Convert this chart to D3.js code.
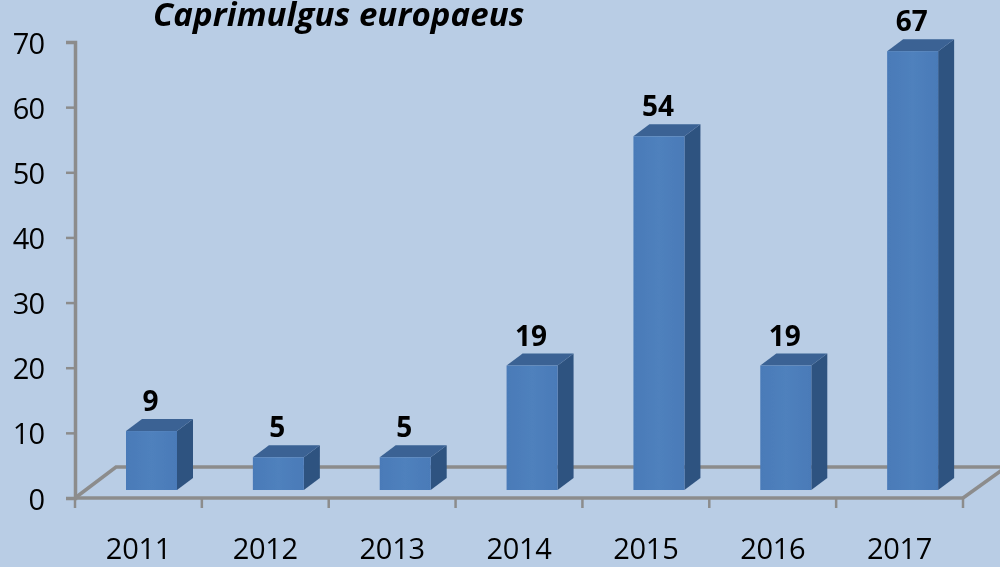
<!DOCTYPE html>
<html><head><meta charset="utf-8">
<script src="https://cdn.jsdelivr.net/npm/d3@7"></script>
<style>html,body{margin:0;padding:0;background:#b9cde5}svg{display:block}text{font-family:"Open Sans",sans-serif}</style>
</head><body><svg id="c" width="1000" height="567"></svg>
<script>
const years=["2011","2012","2013","2014","2015","2016","2017"];
const counts=[9,5,5,19,54,19,67];
const yTicks=[0,10,20,30,40,50,60,70];
const titleText="Caprimulgus europaeus";

const W=1000,H=567,axisGrey="#8c8c8c";
const svg=d3.select("#c");
svg.append("rect").attr("width",W).attr("height",H).attr("fill","#b9cde5");
const defs=svg.append("defs");
const grad=defs.append("linearGradient").attr("id","front").attr("x1",0).attr("x2",1).attr("y1",0).attr("y2",0);
grad.append("stop").attr("offset","0%").attr("stop-color","#4a7ab8");
grad.append("stop").attr("offset","50%").attr("stop-color","#4f81bd");
grad.append("stop").attr("offset","100%").attr("stop-color","#4a7ab8");
defs.append("filter").attr("id","soft").append("feGaussianBlur").attr("stdDeviation",0.4);

const x=d3.scaleBand().domain(years).range([75,963]);
const y=d3.scaleLinear().domain([0,70]).range([498,42]);
const yFront=d3.scaleLinear().domain([0,70]).range([490,31.5]);
const dx=16,dy=-12,floorDx=41,floorDy=-31;

const g=svg.append("g").attr("filter","url(#soft)");
// floor
g.append("path").attr("fill","none").attr("stroke",axisGrey).attr("stroke-width",3.5)
 .attr("d",`M75,498L${75+floorDx},${498+floorDy}L${W+2},${498+floorDy}`);
g.append("path").attr("fill","none").attr("stroke",axisGrey).attr("stroke-width",3.5)
 .attr("d",`M963,498L${W+2},470`);
// axes
const ya=d3.axisLeft(y).tickValues(yTicks).tickSize(9).tickPadding(22).tickFormat(d3.format("d"));
const yg=g.append("g").attr("transform","translate(75,0)").call(ya);
const xTicks=d3.range(years.length+1).map(i=>75+i*x.step());
g.selectAll("line.xt").data(xTicks).join("line").attr("class","xt")
 .attr("x1",d=>d).attr("x2",d=>d).attr("y1",498).attr("y2",508).attr("stroke",axisGrey).attr("stroke-width",2.5);
g.append("line").attr("x1",75).attr("x2",963).attr("y1",498).attr("y2",498).attr("stroke",axisGrey).attr("stroke-width",3.5);
yg.selectAll("path.domain").attr("stroke",axisGrey).attr("stroke-width",3.5);
yg.selectAll(".tick line").attr("stroke",axisGrey).attr("stroke-width",2.5);
yg.selectAll(".tick text").attr("fill","#000").attr("font-size",29).attr("dy",11).attr("letter-spacing",-1);
// x labels
g.selectAll("text.xl").data(years).join("text").attr("class","xl")
 .attr("x",d=>x(d)+x.step()*0.5).attr("y",559).attr("text-anchor","middle")
 .attr("font-size",29).attr("letter-spacing",-0.3).attr("fill","#000").text(d=>d);
// bars
const bw=51,off=51;
const bars=g.selectAll("g.bar").data(years.map((k,i)=>({k,v:counts[i]}))).join("g").attr("class","bar");
bars.append("path").attr("fill","#2f5380").attr("d",d=>{const a=x(d.k)+off+bw,t=yFront(d.v),b=yFront(0);
 return `M${a},${t}L${a+dx},${t+dy}L${a+dx},${b+dy}L${a},${b}Z`;});
bars.append("path").attr("fill","#3b6294").attr("d",d=>{const a=x(d.k)+off,t=yFront(d.v);
 return `M${a},${t}L${a+dx},${t+dy}L${a+bw+dx},${t+dy}L${a+bw},${t}Z`;});
bars.append("rect").attr("fill","url(#front)").attr("x",d=>x(d.k)+off).attr("width",bw)
 .attr("y",d=>yFront(d.v)).attr("height",d=>yFront(0)-yFront(d.v));
bars.append("text").attr("x",d=>x(d.k)+off+bw/2-1).attr("y",d=>yFront(d.v)-20)
 .attr("text-anchor","middle").attr("font-size",28).attr("font-weight",700).attr("fill","#000").text(d=>d.v);
// title
g.append("text").attr("x",153).attr("y",26).attr("font-size",33).attr("font-weight",700).attr("font-style","italic").attr("letter-spacing",0.1).attr("fill","#000").text(titleText);
</script></body></html>
